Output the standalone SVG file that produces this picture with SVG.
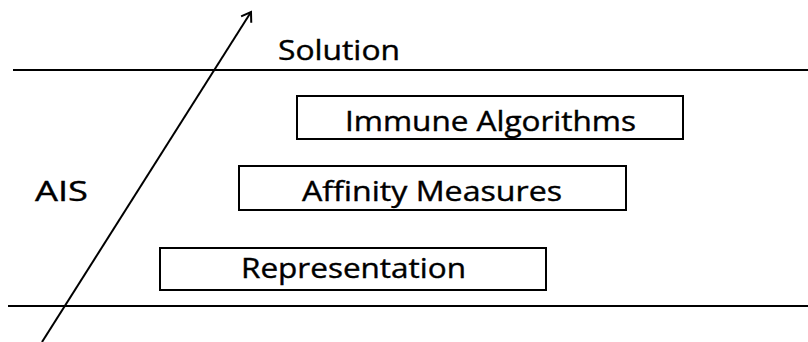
<svg xmlns="http://www.w3.org/2000/svg" width="808" height="342" viewBox="0 0 808 342">
<style>
.box{fill:#fff;stroke:#000;stroke-width:2}
.ln{stroke:#000;stroke-width:2;fill:none}
text{font-family:"Open Sans","Liberation Sans",sans-serif;font-size:28px;fill:#000;stroke:#000;stroke-width:0.4}
</style>
<defs>
<marker id="ah" markerWidth="14" markerHeight="14" refX="10" refY="7" orient="auto" markerUnits="userSpaceOnUse">
<path d="M1,1 L10,7 L1,13" fill="none" stroke="#000" stroke-width="2"/>
</marker>
</defs>
<rect width="808" height="342" fill="#fff"/>
<g id="connectors">
<line class="ln" x1="13" y1="70" x2="808" y2="70"/>
<line class="ln" x1="8" y1="306" x2="808" y2="306"/>
<line class="ln" x1="42" y1="342" x2="251" y2="12" marker-end="url(#ah)"/>
</g>
<g id="solution"><text x="278" y="60" textLength="122" lengthAdjust="spacingAndGlyphs">Solution</text></g>
<g id="ais"><text x="35" y="201" textLength="53" lengthAdjust="spacingAndGlyphs">AIS</text></g>
<g id="immune">
<rect class="box" x="297" y="96" width="386" height="43"/>
<text x="345" y="131" textLength="291" lengthAdjust="spacingAndGlyphs">Immune Algorithms</text>
</g>
<g id="affinity">
<rect class="box" x="239" y="166" width="387" height="44"/>
<text x="302" y="201" textLength="260" lengthAdjust="spacingAndGlyphs">Affinity Measures</text>
</g>
<g id="representation">
<rect class="box" x="160" y="248" width="386" height="42"/>
<text x="241" y="278" textLength="225" lengthAdjust="spacingAndGlyphs">Representation</text>
</g>
</svg>
